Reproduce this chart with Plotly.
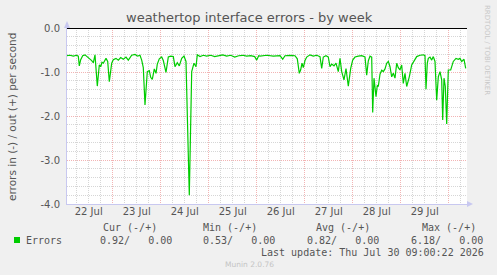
import datetime as dt
import plotly.graph_objects as go

# ---- data ----
start = dt.datetime(2026, 7, 22, 0, 0)
hours = [1.0, 2.65, 4.3, 6.0, 6.8, 7.3, 8.0, 9.0, 10.15, 11.0, 12.3, 13.5, 14.3, 15.15, 16.3, 17.3, 18.0,
         18.65, 19.3, 20.0, 20.65, 21.5, 22.3, 23.5, 24.3, 25.65, 26.8, 28.0, 29.3, 30.65, 31.8, 33.5,
         35.15, 36.5, 37.65, 38.5, 39.3, 40.15, 41.3, 42.3, 43.0, 43.8, 44.8, 45.65, 46.3, 47.3, 48.5,
         49.3, 50.65, 51.8, 53.0, 54.3, 55.15, 56.3, 57.3, 58.5, 59.65, 60.65, 62.3, 63.5, 64.65, 65.65,
         66.3, 67.65, 69.3, 71.0, 73.0, 75.0, 77.0, 79.0, 81.0, 83.0, 85.0, 87.0, 89.0, 91.0, 93.0, 95.0,
         96.0, 97.0, 97.65, 101.0, 104.3, 107.65, 109.0, 110.15, 112.65, 115.15, 116.3, 117.3, 118.0,
         118.65, 119.3, 120.15, 121.0, 122.65, 124.3, 126.0, 127.65, 128.5, 129.3, 130.65, 131.8, 132.65,
         133.5, 134.65, 135.65, 136.8, 137.65, 138.5, 139.65, 140.65, 141.8, 143.0, 144.0, 145.15, 146.8,
         148.5, 150.15, 151.0, 151.8, 152.65, 153.5, 154.0, 154.65, 155.15, 155.65, 156.3, 156.8, 157.65,
         158.5, 159.3, 160.15, 161.0, 161.8, 162.65, 163.5, 164.3, 165.15, 166.0, 166.8, 167.65, 168.5,
         169.3, 170.15, 171.0, 172.3, 173.5, 174.65, 176.0, 177.65, 179.3, 180.15, 180.65, 181.3, 181.8,
         182.65, 183.5, 184.3, 185.15, 186.0, 186.8, 187.65, 188.5, 189.0, 189.65, 190.3, 191.0, 191.8,
         193.0, 194.3, 195.65, 196.8, 197.65, 198.5, 199.65, 200.5]
errors = [-0.63, -0.62, -0.64, -0.62, -0.64, -0.86, -0.72, -0.63, -0.61, -0.64, -0.70, -0.74, -0.79, -0.61,
          -1.32, -0.84, -0.88, -0.78, -0.80, -0.72, -0.69, -0.76, -1.22, -0.80, -0.72, -0.69, -0.73, -0.67,
          -0.71, -0.66, -0.73, -0.62, -0.60, -0.64, -0.62, -0.73, -0.90, -1.75, -0.99, -0.97, -1.12, -1.17,
          -0.93, -1.03, -0.82, -0.70, -0.66, -0.74, -1.01, -0.66, -0.64, -0.65, -0.88, -0.79, -0.86, -0.69,
          -0.64, -0.76, -3.80, -0.99, -0.80, -0.88, -0.61, -0.65, -0.62, -0.64, -0.62, -0.65, -0.63, -0.61,
          -0.64, -0.62, -0.66, -0.63, -0.62, -0.64, -0.63, -0.65, -0.73, -0.63, -0.64, -0.62, -0.64, -0.63,
          -0.71, -0.63, -0.62, -0.63, -0.70, -1.03, -0.95, -0.80, -0.90, -0.74, -0.66, -0.61, -0.64, -0.62,
          -0.65, -0.92, -0.66, -0.63, -0.66, -0.88, -0.82, -0.86, -0.80, -0.99, -0.69, -0.99, -1.18, -0.92,
          -1.32, -0.92, -0.73, -0.66, -0.64, -0.63, -0.66, -1.07, -0.75, -0.64, -0.66, -1.92, -1.14, -1.30,
          -1.56, -1.30, -1.33, -1.05, -0.96, -0.99, -0.93, -0.80, -0.76, -0.88, -1.11, -1.03, -1.14, -0.80,
          -0.90, -0.95, -0.84, -1.26, -1.03, -1.33, -1.11, -0.84, -0.74, -0.65, -0.62, -0.61, -0.63, -1.39,
          -0.80, -0.69, -0.66, -0.73, -0.65, -0.76, -1.64, -1.11, -0.99, -1.18, -2.09, -1.14, -1.33, -2.18,
          -0.955, -0.955, -0.76, -0.69, -0.71, -0.69, -0.76, -0.71, -0.92]
day_labels = ["22 Jul", "23 Jul", "24 Jul", "25 Jul", "26 Jul", "27 Jul", "28 Jul", "29 Jul"]
y_ticks = [0.0, -1.0, -2.0, -3.0, -4.0]
y_ticktext = ["0.0", "-1.0", "-2.0", "-3.0", "-4.0"]
legend_header = ["Cur (-/+)", "Min (-/+)", "Avg (-/+)", "Max (-/+)"]
legend_values = ["0.92/   0.00", "0.53/   0.00", "0.82/   0.00", "6.18/   0.00"]
series_name = "Errors"
title = "weathertop interface errors - by week"
ylabel = "errors in (-) / out (+) per second"
last_update = "Last update: Thu Jul 30 09:00:22 2026"
footer = "Munin 2.0.76"
side_text = "RRDTOOL / TOBI OETIKER"

# ---- figure ----
W, H = 497, 275
L, R, T, B = 67, 30, 28, 71
PW, PH = W - L - R, H - T - B

times = [start + dt.timedelta(hours=h) for h in hours]
x0 = start + dt.timedelta(hours=1.15)
x1 = start + dt.timedelta(hours=201.15)
noons = [start + dt.timedelta(days=i, hours=12) for i in range(len(day_labels))]

GREEN = "#00cc00"
MAJOR = "#f2b4b4"
MINOR = "#d6d6d6"
TXT = "#555555"

fig = go.Figure()
fig.add_trace(go.Scatter(x=times, y=errors, mode="lines", line=dict(color=GREEN, width=1.2),
                         showlegend=False, hoverinfo="skip"))
# invisible trace on overlay axis for labels
fig.add_trace(go.Scatter(x=[x0, x1], y=[0, 0], xaxis="x2", mode="lines",
                         line=dict(width=0), showlegend=False, hoverinfo="skip"))

fig.update_layout(
    width=W, height=H, margin=dict(l=L, r=R, t=T, b=B),
    paper_bgcolor="#f0f0f0", plot_bgcolor="#ffffff",
    font=dict(family="DejaVu Sans", size=10, color=TXT),
    xaxis=dict(type="date", range=[x0, x1], tickmode="linear", tick0="2026-07-22", dtick=86400000,
               showticklabels=False, ticks="", showgrid=True, gridcolor=MAJOR, gridwidth=1,
               griddash="1px,1px", zeroline=False, showline=True, linecolor="#c8c8f0",
               minor=dict(dtick=21600000, tick0="2026-07-22", showgrid=True, gridcolor=MINOR,
                          griddash="1px,1px", gridwidth=1, ticks="")),
    xaxis2=dict(type="date", range=[x0, x1], overlaying="x", side="bottom", tickmode="array",
                tickvals=noons, ticktext=day_labels, showgrid=False, zeroline=False, ticks="",
                showline=False, tickfont=dict(size=10, color=TXT, family="DejaVu Sans")),
    yaxis=dict(range=[-4, 0], tickmode="array", tickvals=y_ticks, ticktext=y_ticktext,
               showgrid=True, gridcolor=MAJOR, griddash="1px,1px", gridwidth=1,
               zeroline=True, zerolinecolor="#000000", zerolinewidth=1.2,
               showline=True, linecolor="#c8c8f0", ticks="", ticklabelstandoff=4,
               tickfont=dict(size=10, color=TXT),
               minor=dict(dtick=0.2, showgrid=True, gridcolor=MINOR, griddash="1px,1px", gridwidth=1)),
)

def px(x):
    return (x - L) / PW

def py(y):
    return (T + PH - y) / PH

ann = []
ann.append(dict(text=title, x=px(249), y=py(18), xanchor="center", yanchor="middle",
                font=dict(size=13, color=TXT)))
ann.append(dict(text=ylabel, x=px(12), y=py(117), xanchor="center", yanchor="middle",
                textangle=-90, font=dict(size=10.5, color=TXT)))
ann.append(dict(text=side_text, x=px(487), y=py(5), xanchor="center", yanchor="top",
                textangle=90, font=dict(size=7, color="#c8c8c8")))
mono = "DejaVu Sans Mono"
hdr_x = [103, 203, 316, 422]
val_x = [100, 203, 307, 411]
for hx, t in zip(hdr_x, legend_header):
    ann.append(dict(text=t.replace(" ", "\u00a0"), x=px(hx), y=py(228), xanchor="left", yanchor="middle",
                    font=dict(family=mono, size=10, color=TXT)))
for vx, t in zip(val_x, legend_values):
    ann.append(dict(text=t.replace(" ", "\u00a0"), x=px(vx), y=py(240), xanchor="left", yanchor="middle",
                    font=dict(family=mono, size=10, color=TXT)))
ann.append(dict(text=series_name, x=px(26), y=py(240), xanchor="left", yanchor="middle",
                font=dict(family=mono, size=10, color=TXT)))
ann.append(dict(text=last_update.replace(" ", "\u00a0"), x=px(484), y=py(252), xanchor="right",
                yanchor="middle", font=dict(family=mono, size=10, color=TXT)))
ann.append(dict(text=footer, x=px(249), y=py(264), xanchor="center", yanchor="middle",
                font=dict(size=7.5, color="#c4c4c4")))
for a in ann:
    a.update(xref="paper", yref="paper", showarrow=False, borderpad=0, borderwidth=0)
fig.update_layout(annotations=ann)

shapes = [
    # legend colour box
    dict(type="rect", xref="paper", yref="paper", x0=px(14), x1=px(20), y0=py(243), y1=py(237),
         fillcolor=GREEN, line=dict(width=0)),
    # axis arrows
    dict(type="path", xref="paper", yref="paper",
         path=f"M {px(64)} {py(28)} L {px(70)} {py(28)} L {px(67)} {py(21)} Z",
         fillcolor="#c8c8f0", line=dict(width=0)),
    dict(type="path", xref="paper", yref="paper",
         path=f"M {px(467)} {py(201)} L {px(467)} {py(207)} L {px(473)} {py(204)} Z",
         fillcolor="#c8c8f0", line=dict(width=0)),
]
fig.update_layout(shapes=shapes)

fig.write_html("out.html")
